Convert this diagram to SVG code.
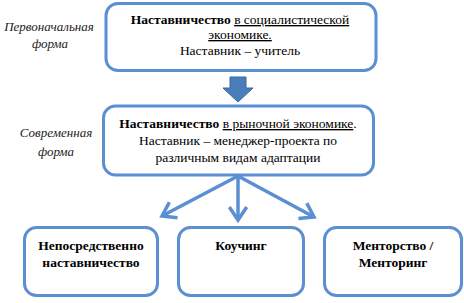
<svg xmlns="http://www.w3.org/2000/svg" width="464" height="303" viewBox="0 0 464 303" font-family="Liberation Serif, Times New Roman, serif">
<style>
.box{fill:#fff;stroke:#5b8ed3;stroke-width:3}
.t{font-family:"Liberation Serif","Times New Roman",serif;font-size:13.5px;fill:#000;text-anchor:middle}
.b{font-weight:bold}
.i{font-style:italic;font-size:13px;fill:#222}
.u{text-decoration:underline}
.con{stroke:#5b8ed3;stroke-width:3.5;fill:none}
</style>
<defs>
<marker id="ah" markerWidth="6" markerHeight="6" refX="4" refY="3" orient="auto" markerUnits="strokeWidth">
<path d="M0.3,0.5 L4,3 L0.3,5.5" fill="none" stroke="#5b8ed3" stroke-width="1"/>
</marker>
</defs>
<rect width="464" height="303" fill="#fff"/>
<g id="label-first">
<text class="t i" x="49" y="31">Первоначальная</text>
<text class="t i" x="50" y="48">форма</text>
</g>
<g id="label-modern">
<text class="t i" x="56" y="137">Современная</text>
<text class="t i" x="56" y="156">форма</text>
</g>
<g id="node-socialist">
<rect class="box" x="106" y="3.5" width="270" height="67" rx="12"/>
<text class="t" x="240" y="24"><tspan class="b">Наставничество</tspan> <tspan class="u">в социалистической</tspan></text>
<text class="t u" x="240" y="39">экономике.</text>
<text class="t" x="240" y="55">Наставник – учитель</text>
</g>
<g id="node-market">
<rect class="box" x="103.5" y="106" width="270" height="69" rx="12"/>
<text class="t" x="238" y="128"><tspan class="b">Наставничество</tspan> <tspan class="u">в рыночной экономике</tspan>.</text>
<text class="t" x="238" y="145">Наставник – менеджер-проекта по</text>
<text class="t" x="238" y="162">различным видам адаптации</text>
</g>
<g id="node-direct">
<rect class="box" x="24.5" y="227.5" width="133" height="68" rx="12"/>
<text class="t b" x="91" y="250">Непосредственно</text>
<text class="t b" x="91" y="267">наставничество</text>
</g>
<g id="node-coaching">
<rect class="box" x="178.5" y="227.5" width="125" height="68" rx="12"/>
<text class="t b" x="241" y="250">Коучинг</text>
</g>
<g id="node-mentoring">
<rect class="box" x="324.5" y="227.5" width="137" height="68" rx="12"/>
<text class="t b" x="393" y="250">Менторство /</text>
<text class="t b" x="393" y="267">Менторинг</text>
</g>
<g id="connectors">
<path d="M230,77 H246 V88 H253 L238,102 L223,88 H230 Z" fill="#4a7ebb" stroke="#3a679c" stroke-width="1"/>
<line class="con" x1="238" y1="176" x2="162" y2="216" marker-end="url(#ah)"/>
<line class="con" x1="238" y1="176" x2="238" y2="220" marker-end="url(#ah)"/>
<line class="con" x1="238" y1="176" x2="314" y2="217" marker-end="url(#ah)"/>
</g>
</svg>
